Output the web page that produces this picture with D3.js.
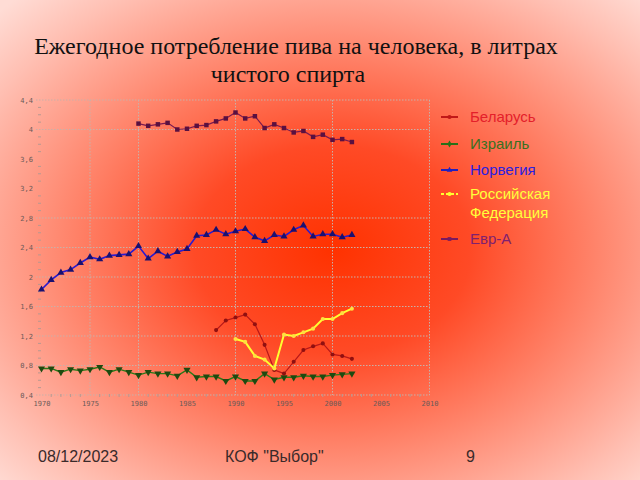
<!DOCTYPE html>
<html><head><meta charset="utf-8">
<script src="https://cdn.jsdelivr.net/npm/d3@7"></script>
<style>html,body{margin:0;padding:0;overflow:hidden;background:#fff}</style>
</head><body>
<script>
// ---- data ----
const yearsAll = d3.range(1970, 2003);
const yearsEvr = d3.range(1980, 2003);
const yearsBel = d3.range(1988, 2003);
const yearsRus = d3.range(1990, 2003);

const norway = [1.83,1.96,2.06,2.10,2.19,2.27,2.24,2.29,2.30,2.31,
  2.42,2.25,2.35,2.28,2.34,2.38,2.56,2.57,2.64,2.58,2.62,2.65,2.54,2.49,2.57,2.55,2.64,2.70,2.55,2.58,2.58,2.54,2.57];
const israel = [0.76,0.76,0.71,0.75,0.73,0.75,0.78,0.71,0.75,0.71,
  0.67,0.71,0.69,0.69,0.66,0.74,0.64,0.65,0.65,0.59,0.65,0.59,0.59,0.69,0.61,0.64,0.64,0.66,0.65,0.65,0.67,0.68,0.69];
const evrA = [4.08,4.05,4.07,4.09,4.00,4.01,4.05,4.06,4.11,4.15,4.23,4.15,4.18,4.02,4.07,4.02,3.96,3.98,3.90,3.93,3.86,3.87,3.83];
const belarus = [1.28,1.41,1.45,1.49,1.36,1.08,0.74,0.69,0.85,1.01,1.06,1.10,0.95,0.93,0.89];
const russia = [1.16,1.12,0.93,0.88,0.76,1.22,1.20,1.25,1.30,1.43,1.43,1.51,1.57];

const yTicks = [0.4,0.8,1.2,1.6,2.0,2.4,2.8,3.2,3.6,4.0,4.4];
const yGrid = [0.4,0.8,1.2,1.6,2.0,2.4,2.8,4.0,4.4];
const xTicks = d3.range(1970, 2011, 5);
const xGrid = [1975,1980,1990,2000,2010];

const legendNames = ["Беларусь","Израиль","Норвегия","Российская|Федерация","Евр-А"];
const titleLines = ["Ежегодное потребление пива на человека, в литрах","чистого спирта"];
const footer = ["08/12/2023","КОФ \"Выбор\"","9"];

// ---- svg ----
const W = 640, H = 480;
const svg = d3.select("body").append("svg").attr("width", W).attr("height", H);
const defs = svg.append("defs");
const rg = defs.append("radialGradient").attr("id","bg").attr("cx","0.52").attr("cy","0.52").attr("r","0.72");
[[0,"#ff3200"],[0.3,"#ff4a26"],[0.6,"#ff8a72"],[0.85,"#ffbfb2"],[1,"#ffdcd5"]].forEach(s=>
  rg.append("stop").attr("offset",s[0]).attr("stop-color",s[1]));
svg.append("rect").attr("width",W).attr("height",H).attr("fill","url(#bg)");

const x = d3.scaleLinear().domain([1970,2010]).range([41.5,429.5]);
const y = d3.scaleLinear().domain([0.4,4.4]).range([395,100]);

// grid
const gridColor = "#c9b0a8";
svg.append("g").selectAll("line").data(yGrid).join("line")
  .attr("x1",36).attr("x2",x(2010)).attr("y1",d=>y(d)).attr("y2",d=>y(d))
  .attr("stroke",gridColor).attr("stroke-width",1).attr("stroke-dasharray","1.5,1.5");
svg.append("g").selectAll("line").data(xGrid).join("line")
  .attr("x1",d=>x(d)).attr("x2",d=>x(d)).attr("y1",y(4.4)).attr("y2",y(0.4))
  .attr("stroke",gridColor).attr("stroke-width",1).attr("stroke-dasharray","1.5,1.5");

// y axis
const fmt = d => String(+d.toFixed(1)).replace(".", ",");
const yAx = svg.append("g").attr("transform","translate(36,0)")
  .call(d3.axisLeft(y).tickValues(yTicks).tickSize(0).tickPadding(3).tickFormat(fmt));
yAx.select(".domain").remove();
yAx.selectAll("text").attr("fill","#6a5a58").style("font-family","DejaVu Sans Mono").style("font-size","7px");
// y minor ticks
const yMinor = d3.range(0.5, 4.4, 0.1).filter(v => Math.abs(v*10 % 4) > 0.01 && Math.abs((v*10 % 4) - 4) > 0.01);
svg.append("g").selectAll("line").data(yMinor).join("line")
  .attr("x1",38).attr("x2",41).attr("y1",d=>y(d)).attr("y2",d=>y(d))
  .attr("stroke","#b89890").attr("stroke-width",1);

// x axis
const xAx = svg.append("g").attr("transform","translate(0,399)")
  .call(d3.axisBottom(x).tickValues(xTicks).tickSize(0).tickPadding(2).tickFormat(d3.format("d")));
xAx.select(".domain").remove();
xAx.selectAll("text").attr("fill","#6a5a58").style("font-family","DejaVu Sans Mono").style("font-size","7px");
const xMinor = d3.range(1971, 2010).filter(v => v % 5 !== 0);
svg.append("g").selectAll("line").data(xMinor).join("line")
  .attr("x1",d=>x(d)).attr("x2",d=>x(d)).attr("y1",394).attr("y2",397)
  .attr("stroke","#b89890").attr("stroke-width",1);

// series
const series = [
  {years: yearsEvr, vals: evrA, line:"#7a1a50", mark:"#5a1040", shape:"square", w:1.2},
  {years: yearsAll, vals: norway, line:"#2a1ad0", mark:"#1a1070", shape:"tri", w:1.6},
  {years: yearsAll, vals: israel, line:"#2a7a18", mark:"#1e4a10", shape:"tridown", w:1.4},
  {years: yearsBel, vals: belarus, line:"#b81818", mark:"#901010", shape:"circle", w:1.2},
  {years: yearsRus, vals: russia, line:"#ffff30", mark:"#ffe040", shape:"circle", w:2}
];
const lineGen = d3.line().x(d=>x(d[0])).y(d=>y(d[1]));
const sym = {
  square: d3.symbol().type(d3.symbolSquare).size(20),
  tri: d3.symbol().type(d3.symbolTriangle).size(22),
  tridown: d3.symbol().type(d3.symbolTriangle).size(22),
  circle: d3.symbol().type(d3.symbolCircle).size(13)
};
series.forEach(s=>{
  const pts = s.years.map((yr,i)=>[yr,s.vals[i]]);
  svg.append("path").datum(pts).attr("d",lineGen).attr("fill","none")
    .attr("stroke",s.line).attr("stroke-width",s.w);
  svg.append("g").selectAll("path").data(pts).join("path")
    .attr("d",sym[s.shape])
    .attr("transform",d=>`translate(${x(d[0])},${y(d[1])})` + (s.shape==="tridown"?" rotate(180)":""))
    .attr("fill",s.mark);
});

// legend
const legColors = ["#e4202a","#3a7020","#2a20e0","#ffff3a","#802070"];
const legLine = ["#c01818","#2a7018","#2020c0","#ffff30","#7a1a60"];
const legY = [117,144,170,194,239];
const leg = svg.append("g");
legendNames.forEach((n,i)=>{
  const g = leg.append("g");
  g.append("line").attr("x1",441).attr("x2",458).attr("y1",legY[i]).attr("y2",legY[i])
    .attr("stroke",legLine[i]).attr("stroke-width",2)
    .attr("stroke-dasharray", i===3 ? "3,2" : null);
  g.append("path").attr("d",d3.symbol().type(i===4?d3.symbolSquare:(i===1?d3.symbolDiamond:(i===2?d3.symbolTriangle:d3.symbolCircle))).size(14))
    .attr("transform",`translate(449.5,${legY[i]})`).attr("fill",legLine[i]);
  const parts = n.split("|");
  parts.forEach((p,j)=>{
    g.append("text").attr("x",470).attr("y",legY[i]+5+j*19).text(p)
      .attr("fill",legColors[i]).style("font-family","Liberation Sans, Arial, sans-serif").style("font-size","15px");
  });
});

// title
svg.append("text").attr("x",296).attr("y",54).attr("text-anchor","middle").text(titleLines[0])
  .style("font-family","Liberation Serif, Times New Roman, serif").style("font-size","24px").attr("fill","#111");
svg.append("text").attr("x",288).attr("y",82).attr("text-anchor","middle").text(titleLines[1])
  .style("font-family","Liberation Serif, Times New Roman, serif").style("font-size","24px").attr("fill","#111");

// footer
const fx = [38, 225, 466];
footer.forEach((t,i)=>{
  svg.append("text").attr("x",fx[i]).attr("y",462).text(t)
    .style("font-family","Liberation Sans, Arial, sans-serif").style("font-size","16px").attr("fill","#3a2a2a");
});
</script>
</body></html>
